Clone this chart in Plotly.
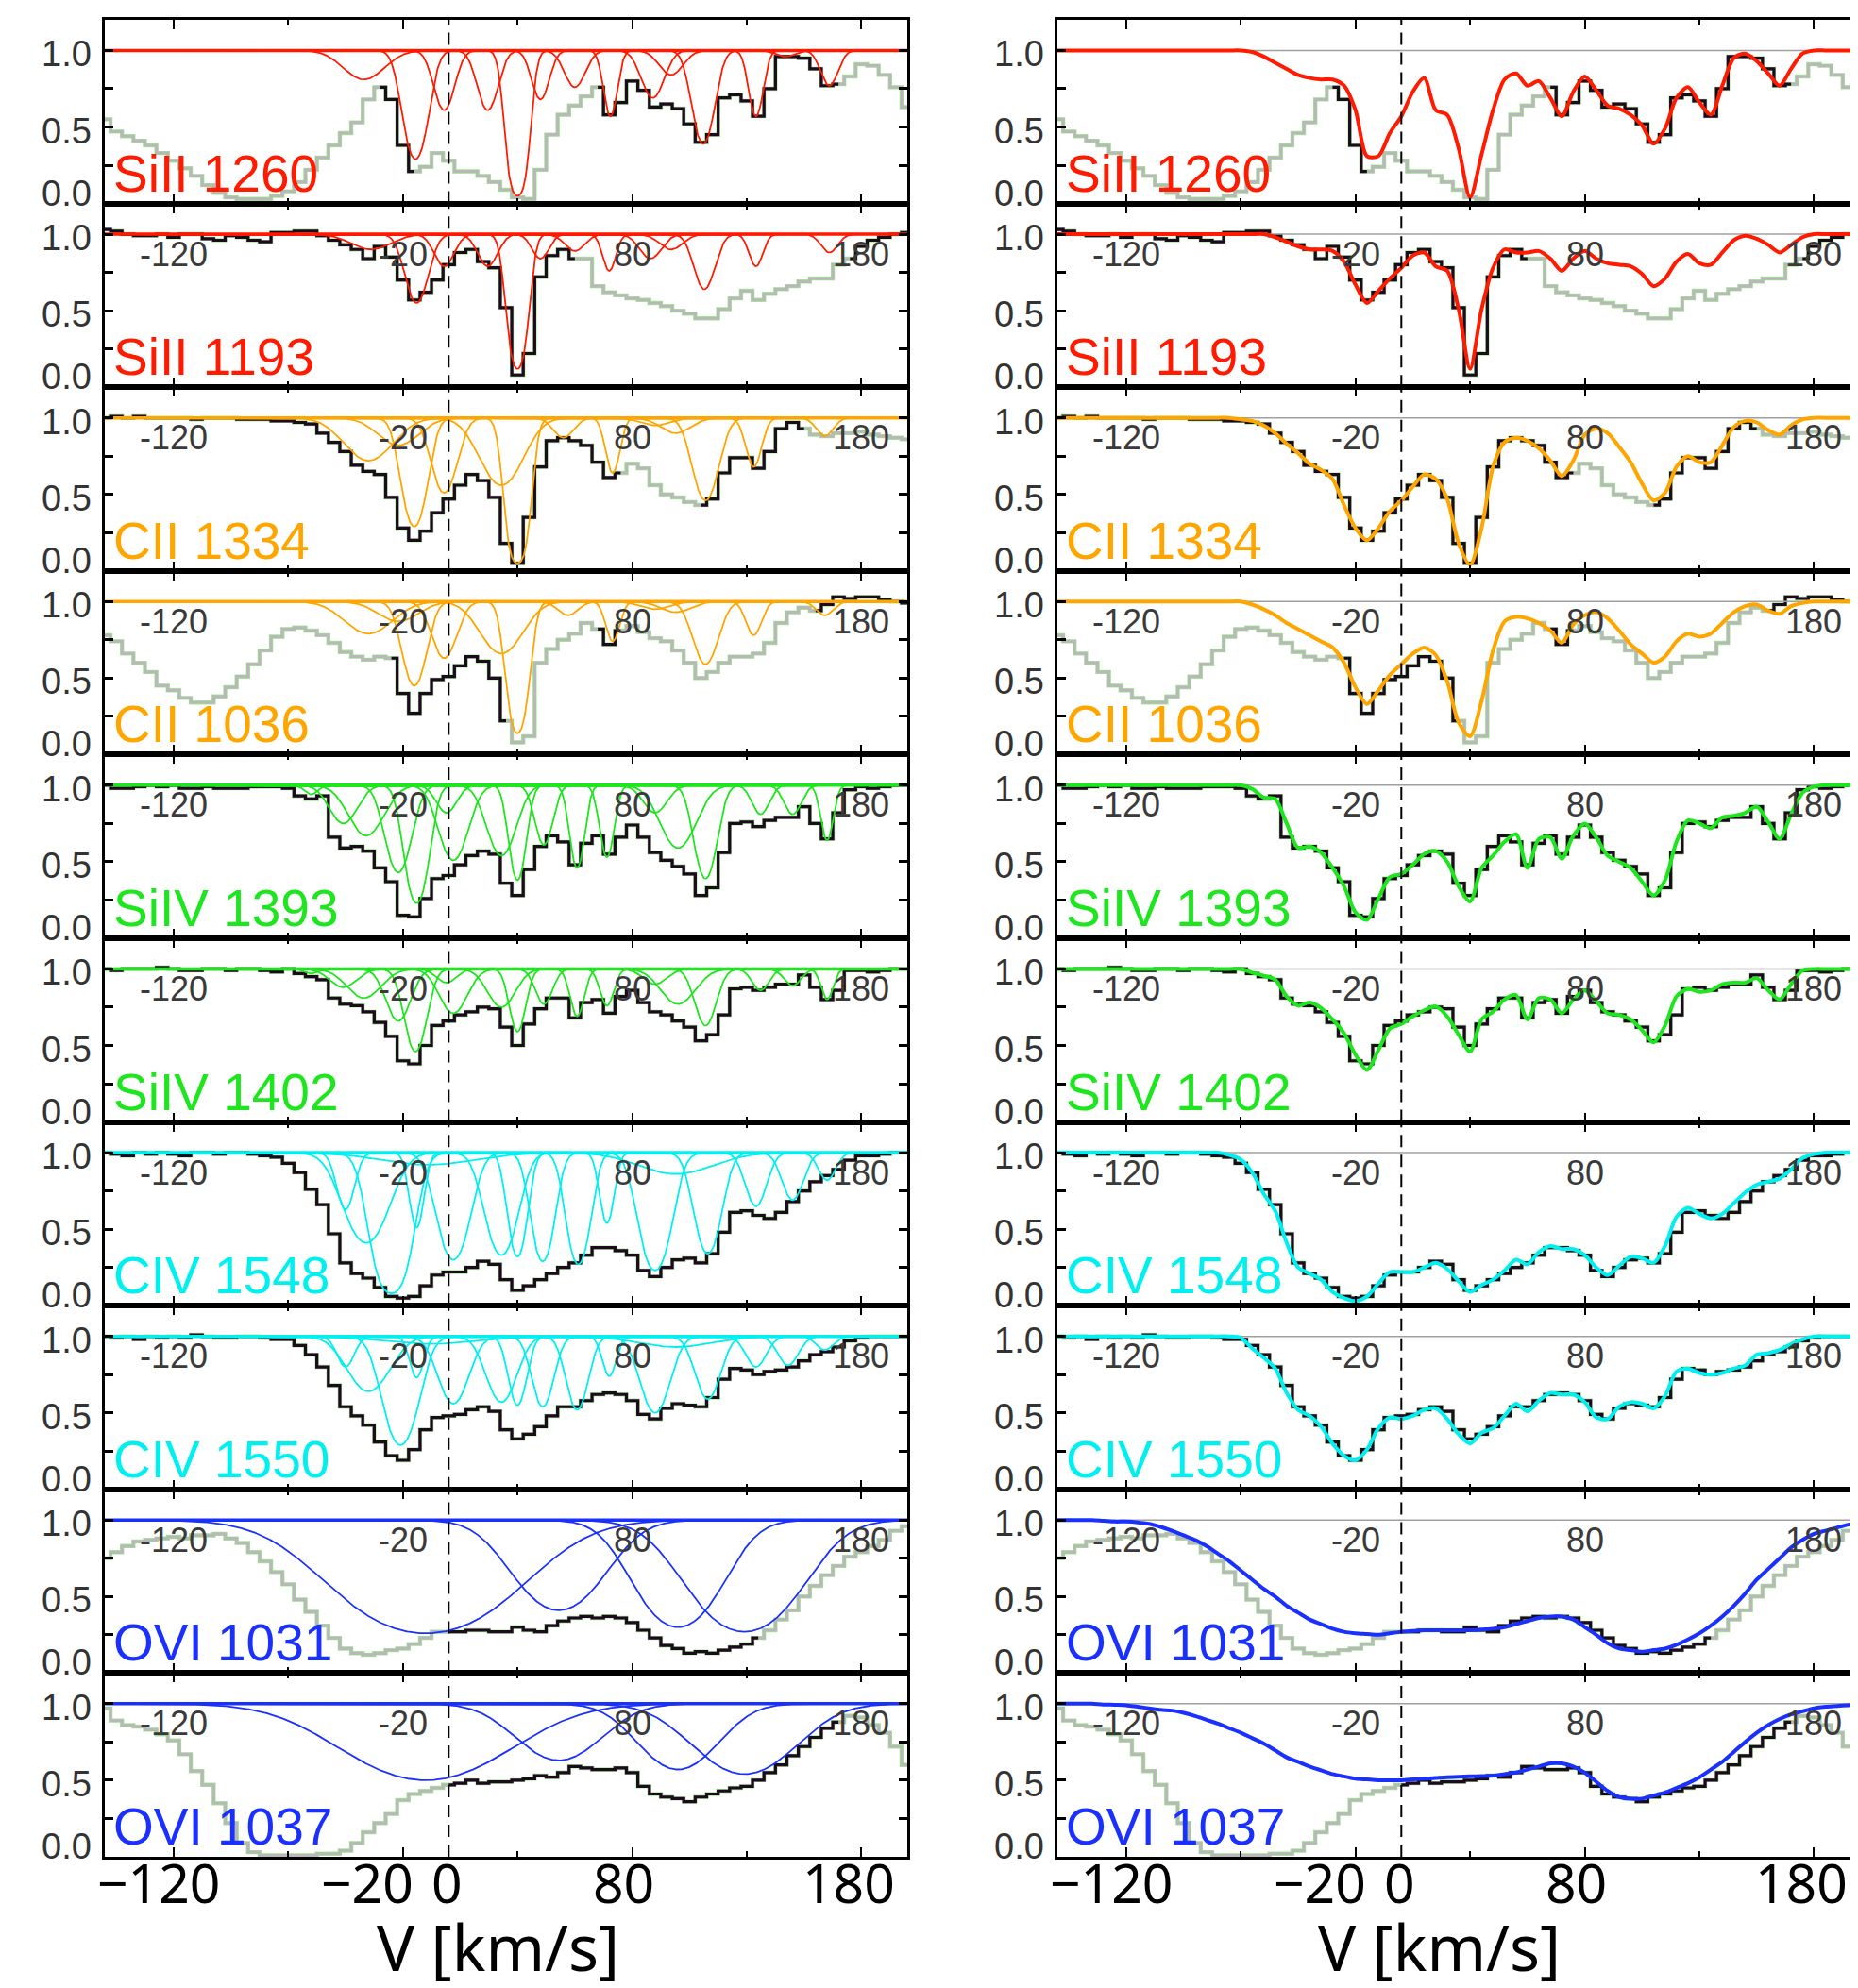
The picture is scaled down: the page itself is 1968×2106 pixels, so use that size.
import numpy as np
import plotly.graph_objects as go

# ---------------- data ----------------
V = list(range(-150, 205, 5))  # velocity bins (km/s)

SPEC_SIII_1260 = [0.55, 0.47, 0.44, 0.41, 0.38, 0.33, 0.28, 0.23, 0.18, 0.12,
                  0.07, 0.04, 0.03, 0.03, 0.03, 0.05, 0.08, 0.14, 0.22, 0.30,
                  0.38, 0.46, 0.53, 0.68, 0.76, 0.68, 0.38, 0.21, 0.24, 0.33,
                  0.28, 0.21, 0.21, 0.18, 0.14, 0.09, 0.04, 0.03, 0.22, 0.45,
                  0.58, 0.64, 0.70, 0.76, 0.58, 0.66, 0.80, 0.74, 0.63, 0.65,
                  0.62, 0.52, 0.40, 0.45, 0.69, 0.71, 0.67, 0.57, 0.75, 0.96,
                  0.96, 0.95, 0.88, 0.77, 0.78, 0.83, 0.91, 0.90, 0.84, 0.76,
                  0.63]
SPEC_SIII_1193 = [1.03, 1.02, 1.00, 0.99, 0.99, 1.00, 0.98, 1.00, 1.00, 0.97,
                  0.96, 0.99, 0.98, 0.96, 0.95, 1.01, 1.01, 1.02, 1.02, 0.99,
                  0.96, 0.93, 0.90, 0.84, 0.92, 0.85, 0.70, 0.57, 0.62, 0.70,
                  0.80, 0.88, 0.90, 0.82, 0.78, 0.52, 0.08, 0.22, 0.72, 0.86,
                  0.90, 0.84, 0.84, 0.66, 0.62, 0.60, 0.58, 0.57, 0.55, 0.53,
                  0.50, 0.48, 0.45, 0.45, 0.51, 0.58, 0.63, 0.57, 0.61, 0.64,
                  0.66, 0.69, 0.71, 0.71, 0.80, 0.84, 0.92, 0.96, 0.98, 1.00,
                  1.01]
SPEC_CII_1334 = [1.00, 1.01, 1.00, 1.01, 1.00, 1.00, 1.00, 1.00, 0.99, 1.00,
                 1.00, 1.00, 0.99, 0.99, 0.99, 0.98, 0.98, 0.97, 0.96, 0.90,
                 0.84, 0.78, 0.69, 0.65, 0.63, 0.48, 0.28, 0.20, 0.26, 0.38,
                 0.47, 0.56, 0.63, 0.59, 0.48, 0.18, 0.05, 0.35, 0.68, 0.85,
                 0.87, 0.85, 0.82, 0.71, 0.61, 0.64, 0.70, 0.67, 0.56, 0.50,
                 0.48, 0.45, 0.43, 0.47, 0.64, 0.74, 0.74, 0.67, 0.78, 0.93,
                 0.97, 0.93, 0.89, 0.88, 0.90, 0.90, 0.91, 0.89, 0.88, 0.87,
                 0.86]
SPEC_CII_1036 = [0.78, 0.74, 0.66, 0.60, 0.54, 0.45, 0.42, 0.37, 0.34, 0.34,
                 0.38, 0.44, 0.51, 0.59, 0.68, 0.77, 0.82, 0.83, 0.81, 0.78,
                 0.73, 0.67, 0.64, 0.62, 0.64, 0.63, 0.40, 0.27, 0.40, 0.49,
                 0.51, 0.58, 0.64, 0.61, 0.50, 0.22, 0.08, 0.12, 0.60, 0.69,
                 0.75, 0.79, 0.86, 0.82, 0.72, 0.81, 0.84, 0.80, 0.76, 0.74,
                 0.68, 0.60, 0.50, 0.54, 0.60, 0.64, 0.64, 0.66, 0.73, 0.86,
                 0.93, 0.96, 0.94, 0.98, 1.03, 1.02, 1.03, 1.03, 1.01, 1.00,
                 0.99]
SPEC_SIIV_1393 = [1.00, 0.98, 0.98, 0.99, 1.00, 0.99, 1.00, 0.98, 0.98, 0.99,
                  0.98, 0.98, 0.98, 0.99, 0.99, 0.99, 0.98, 0.93, 0.91, 0.93,
                  0.66, 0.59, 0.60, 0.57, 0.46, 0.37, 0.15, 0.14, 0.26, 0.39,
                  0.41, 0.48, 0.54, 0.57, 0.55, 0.36, 0.28, 0.45, 0.60, 0.67,
                  0.63, 0.48, 0.62, 0.67, 0.55, 0.66, 0.74, 0.66, 0.56, 0.51,
                  0.47, 0.42, 0.28, 0.33, 0.56, 0.75, 0.76, 0.73, 0.77, 0.79,
                  0.79, 0.86, 0.75, 0.65, 0.82, 0.97, 0.99, 0.98, 0.99, 1.00,
                  1.00]
SPEC_SIIV_1402 = [1.00, 0.99, 1.00, 1.00, 1.00, 1.01, 1.00, 0.99, 0.99, 1.00,
                  1.00, 0.99, 1.00, 1.00, 0.99, 0.98, 1.00, 0.97, 0.95, 0.93,
                  0.81, 0.77, 0.76, 0.72, 0.65, 0.56, 0.40, 0.38, 0.50, 0.63,
                  0.66, 0.70, 0.72, 0.75, 0.74, 0.62, 0.50, 0.64, 0.74, 0.81,
                  0.81, 0.68, 0.78, 0.80, 0.71, 0.82, 0.86, 0.78, 0.72, 0.70,
                  0.66, 0.62, 0.53, 0.57, 0.70, 0.87, 0.88, 0.86, 0.88, 0.90,
                  0.90, 0.96, 0.88, 0.80, 0.86, 0.99, 0.99, 0.98, 0.99, 1.00,
                  1.00]
SPEC_CIV_1548 = [1.00, 0.99, 0.98, 1.00, 0.99, 1.00, 0.99, 0.98, 1.00, 1.00,
                 0.99, 1.00, 1.00, 0.99, 0.98, 0.97, 0.93, 0.87, 0.76, 0.66,
                 0.47, 0.28, 0.21, 0.18, 0.12, 0.06, 0.05, 0.06, 0.13, 0.20,
                 0.22, 0.22, 0.25, 0.29, 0.27, 0.17, 0.10, 0.13, 0.17, 0.21,
                 0.25, 0.28, 0.33, 0.38, 0.38, 0.36, 0.33, 0.23, 0.19, 0.25,
                 0.30, 0.31, 0.28, 0.34, 0.48, 0.61, 0.62, 0.59, 0.57, 0.61,
                 0.68, 0.75, 0.81, 0.85, 0.89, 0.95, 0.98, 0.98, 0.99, 1.00,
                 1.00]
SPEC_CIV_1550 = [1.00, 0.99, 1.00, 0.98, 1.00, 0.99, 1.00, 0.99, 1.01, 1.00,
                 0.99, 0.99, 1.00, 1.00, 0.99, 0.98, 0.98, 0.94, 0.88, 0.80,
                 0.68, 0.54, 0.48, 0.42, 0.31, 0.22, 0.19, 0.26, 0.39, 0.47,
                 0.48, 0.49, 0.52, 0.54, 0.51, 0.39, 0.33, 0.36, 0.41, 0.48,
                 0.54, 0.54, 0.58, 0.62, 0.63, 0.62, 0.58, 0.49, 0.46, 0.53,
                 0.56, 0.55, 0.54, 0.60, 0.72, 0.79, 0.78, 0.75, 0.77, 0.78,
                 0.80, 0.84, 0.88, 0.90, 0.93, 0.97, 0.99, 1.00, 1.00, 1.00,
                 1.00]
SPEC_OVI_1031 = [0.75, 0.79, 0.83, 0.86, 0.87, 0.88, 0.89, 0.88, 0.90, 0.90,
                 0.91, 0.88, 0.85, 0.79, 0.73, 0.66, 0.58, 0.48, 0.40, 0.31,
                 0.23, 0.16, 0.13, 0.12, 0.13, 0.15, 0.16, 0.19, 0.23, 0.27,
                 0.27, 0.27, 0.28, 0.28, 0.27, 0.27, 0.30, 0.28, 0.27, 0.31,
                 0.34, 0.36, 0.37, 0.36, 0.37, 0.36, 0.33, 0.28, 0.23, 0.18,
                 0.16, 0.13, 0.14, 0.13, 0.15, 0.17, 0.19, 0.23, 0.28, 0.35,
                 0.41, 0.50, 0.57, 0.64, 0.70, 0.76, 0.79, 0.83, 0.87, 0.93,
                 0.96]
SPEC_OVI_1037 = [0.97, 0.89, 0.86, 0.85, 0.83, 0.80, 0.76, 0.67, 0.56, 0.47,
                 0.35, 0.22, 0.09, 0.03, 0.01, 0.01, 0.01, 0.01, 0.01, 0.02,
                 0.02, 0.04, 0.09, 0.16, 0.22, 0.28, 0.37, 0.41, 0.43, 0.45,
                 0.47, 0.48, 0.50, 0.48, 0.49, 0.49, 0.50, 0.51, 0.53, 0.52,
                 0.55, 0.59, 0.58, 0.57, 0.57, 0.58, 0.55, 0.46, 0.41, 0.39,
                 0.38, 0.36, 0.39, 0.41, 0.43, 0.45, 0.46, 0.50, 0.55, 0.60,
                 0.66, 0.72, 0.78, 0.84, 0.88, 0.92, 0.91, 0.86, 0.81, 0.72,
                 0.60]

# total fitted model (right column), same velocity bins
MODEL_SIII_1260 = [1, 1, 1, 1, 1, 1, 1, 1, 1, 1,
                   1, 1, 1, 1, 1, 1, 1, 0.99, 0.96, 0.92,
                   0.88, 0.84, 0.82, 0.81, 0.81, 0.77, 0.61, 0.31, 0.31, 0.46,
                   0.57, 0.73, 0.82, 0.61, 0.58, 0.36, 0.04, 0.32, 0.61, 0.81,
                   0.85, 0.77, 0.80, 0.69, 0.57, 0.73, 0.83, 0.74, 0.64, 0.62,
                   0.58, 0.51, 0.39, 0.49, 0.69, 0.76, 0.66, 0.58, 0.77, 0.95,
                   0.98, 0.93, 0.85, 0.77, 0.88, 0.98, 1, 1, 1, 1,
                   1]
MODEL_SIII_1193 = [1, 1, 1, 1, 1, 1, 1, 1, 1, 1,
                   1, 1, 1, 1, 1, 1, 1, 1, 1, 0.98,
                   0.95, 0.92, 0.90, 0.90, 0.89, 0.82, 0.67, 0.55, 0.63, 0.71,
                   0.78, 0.86, 0.88, 0.79, 0.76, 0.51, 0.12, 0.51, 0.78, 0.90,
                   0.88, 0.88, 0.89, 0.84, 0.76, 0.84, 0.89, 0.84, 0.81, 0.80,
                   0.79, 0.74, 0.66, 0.71, 0.82, 0.87, 0.81, 0.80, 0.88, 0.96,
                   0.99, 0.97, 0.93, 0.88, 0.93, 0.98, 1, 1, 1, 1,
                   1]
MODEL_CII_1334 = [1, 1, 1, 1, 1, 1, 1, 1, 1, 1,
                  1, 1, 1, 1, 1, 1, 0.99, 0.98, 0.95, 0.90,
                  0.83, 0.77, 0.70, 0.66, 0.60, 0.43, 0.28, 0.20, 0.28, 0.39,
                  0.46, 0.55, 0.63, 0.60, 0.47, 0.18, 0.04, 0.28, 0.68, 0.84,
                  0.87, 0.85, 0.80, 0.72, 0.62, 0.72, 0.89, 0.93, 0.90, 0.81,
                  0.71, 0.57, 0.46, 0.51, 0.68, 0.75, 0.71, 0.71, 0.82, 0.94,
                  0.98, 0.97, 0.92, 0.89, 0.95, 0.99, 1, 1, 1, 1,
                  1]
MODEL_CII_1036 = [1, 1, 1, 1, 1, 1, 1, 1, 1, 1,
                  1, 1, 1, 1, 1, 1, 1, 0.98, 0.95, 0.91,
                  0.86, 0.82, 0.78, 0.74, 0.70, 0.60, 0.44, 0.33, 0.42, 0.52,
                  0.59, 0.66, 0.70, 0.65, 0.48, 0.21, 0.12, 0.35, 0.68, 0.87,
                  0.90, 0.89, 0.86, 0.81, 0.73, 0.85, 0.91, 0.93, 0.89, 0.81,
                  0.72, 0.66, 0.60, 0.64, 0.74, 0.79, 0.77, 0.79, 0.86, 0.93,
                  0.97, 0.98, 0.94, 0.92, 0.97, 0.99, 1, 1, 1, 1,
                  1]
MODEL_SIIV_1393 = [1, 1, 1, 1, 1, 1, 1, 1, 1, 1,
                   1, 1, 1, 1, 1, 1, 1, 0.975, 0.92, 0.91,
                   0.75, 0.59, 0.60, 0.56, 0.46, 0.34, 0.17, 0.12, 0.26, 0.40,
                   0.42, 0.48, 0.55, 0.57, 0.50, 0.34, 0.24, 0.46, 0.54, 0.63,
                   0.68, 0.46, 0.65, 0.66, 0.52, 0.67, 0.75, 0.66, 0.54, 0.50,
                   0.46, 0.37, 0.28, 0.38, 0.63, 0.77, 0.75, 0.72, 0.79, 0.80,
                   0.82, 0.86, 0.76, 0.65, 0.81, 0.95, 0.99, 1, 1, 1,
                   1]
MODEL_SIIV_1402 = [1, 1, 1, 1, 1, 1, 1, 1, 1, 1,
                   1, 1, 1, 1, 1, 1, 1, 0.976, 0.955, 0.93,
                   0.82, 0.76, 0.78, 0.745, 0.67, 0.58, 0.44, 0.34, 0.47, 0.61,
                   0.64, 0.69, 0.73, 0.755, 0.69, 0.57, 0.46, 0.67, 0.72, 0.80,
                   0.83, 0.67, 0.81, 0.80, 0.71, 0.80, 0.86, 0.79, 0.71, 0.70,
                   0.67, 0.60, 0.52, 0.63, 0.82, 0.87, 0.85, 0.86, 0.90, 0.91,
                   0.91, 0.94, 0.86, 0.80, 0.90, 0.99, 1, 1, 1, 1,
                   1]
MODEL_CIV_1548 = [1, 1, 1, 1, 1, 1, 1, 1, 1, 1,
                  1, 1, 1, 1, 1, 0.985, 0.955, 0.87, 0.73, 0.62,
                  0.41, 0.25, 0.21, 0.17, 0.09, 0.05, 0.03, 0.06, 0.145, 0.22,
                  0.22, 0.22, 0.25, 0.28, 0.24, 0.16, 0.09, 0.135, 0.17, 0.23,
                  0.30, 0.27, 0.35, 0.39, 0.37, 0.37, 0.33, 0.25, 0.20, 0.26,
                  0.32, 0.31, 0.28, 0.39, 0.58, 0.64, 0.60, 0.57, 0.60, 0.67,
                  0.74, 0.79, 0.81, 0.83, 0.89, 0.965, 0.99, 1, 1, 1,
                  1]
MODEL_CIV_1550 = [1, 1, 1, 1, 1, 1, 1, 1, 1, 1,
                  1, 1, 1, 1, 1, 1, 0.99, 0.92, 0.86, 0.79,
                  0.63, 0.52, 0.48, 0.41, 0.30, 0.22, 0.19, 0.26, 0.40, 0.47,
                  0.46, 0.48, 0.52, 0.53, 0.46, 0.36, 0.30, 0.37, 0.40, 0.48,
                  0.56, 0.51, 0.58, 0.63, 0.62, 0.62, 0.57, 0.47, 0.46, 0.54,
                  0.57, 0.56, 0.53, 0.61, 0.77, 0.79, 0.76, 0.75, 0.76, 0.79,
                  0.81, 0.88, 0.89, 0.91, 0.95, 0.98, 1, 1, 1, 1,
                  1]
MODEL_OVI_1031 = [1.0, 1.0, 1.0, 1.0, 0.995, 0.99, 0.99, 0.985, 0.975, 0.955,
                  0.93, 0.90, 0.87, 0.83, 0.78, 0.73, 0.67, 0.61, 0.55, 0.50,
                  0.44, 0.395, 0.35, 0.32, 0.29, 0.27, 0.26, 0.255, 0.25, 0.26,
                  0.27, 0.275, 0.28, 0.28, 0.28, 0.28, 0.28, 0.285, 0.29, 0.30,
                  0.32, 0.34, 0.36, 0.37, 0.37, 0.35, 0.30, 0.25, 0.195, 0.16,
                  0.15, 0.14, 0.15, 0.16, 0.185, 0.22, 0.26, 0.31, 0.37, 0.44,
                  0.52, 0.61, 0.68, 0.75, 0.82, 0.87, 0.91, 0.93, 0.95, 0.97,
                  0.98]
MODEL_OVI_1037 = [1.0, 1.0, 1.0, 1.0, 0.995, 0.993, 0.99, 0.98, 0.97, 0.96,
                  0.955, 0.94, 0.92, 0.895, 0.87, 0.84, 0.81, 0.775, 0.74, 0.695,
                  0.65, 0.62, 0.59, 0.565, 0.54, 0.525, 0.51, 0.505, 0.50, 0.50,
                  0.50, 0.505, 0.51, 0.515, 0.52, 0.522, 0.525, 0.527, 0.53, 0.54,
                  0.55, 0.57, 0.59, 0.61, 0.61, 0.59, 0.55, 0.49, 0.43, 0.39,
                  0.38, 0.38, 0.40, 0.42, 0.45, 0.48, 0.52, 0.57, 0.62, 0.685,
                  0.75, 0.81, 0.86, 0.90, 0.93, 0.95, 0.97, 0.98, 0.985, 0.99,
                  0.995]

# velocity ranges of the spectrum used in the fit (drawn black)
FIT_SIII_1260 = [(-30, -15), (65, 170)]
FIT_SIII_1193 = [(-150, 55), (175, 200)]
FIT_CII_1334 = [(-150, 75), (110, 155)]
FIT_CII_1036 = [(-25, 25), (65, 75), (160, 200)]
FIT_SIIV_1393 = [(-150, 200)]
FIT_SIIV_1402 = [(-150, 200)]
FIT_CIV_1548 = [(-150, 200)]
FIT_CIV_1550 = [(-150, 200)]
FIT_OVI_1031 = [(0, 135)]
FIT_OVI_1037 = [(0, 170)]

# fitted components: (centre velocity, minimum flux, width b)
COMP_SIII_1260 = [(-37, 0.81, 12), (-14.5, 0.29, 6.4), (-2, 0.61, 5.8), (17, 0.61, 5.8),
                  (30, 0.05, 4.8), (40, 0.68, 5), (55, 0.76, 6), (70.5, 0.57, 3.8),
                  (89, 0.69, 6.5), (97, 0.84, 7), (111, 0.39, 5.9), (134, 0.57, 4),
                  (147, 0.96, 6), (166, 0.77, 5)]
COMP_SIII_1193 = [(-34, 0.90, 12), (-14, 0.55, 6.4), (-2, 0.79, 5.8), (17, 0.79, 5.8),
                  (30, 0.12, 4.8), (40, 0.84, 5), (55, 0.89, 6), (70, 0.76, 3.8),
                  (88, 0.84, 6.5), (97, 0.90, 7), (111.5, 0.64, 5.9), (134, 0.79, 4),
                  (166, 0.88, 5)]
COMP_CII_1334 = [(-35, 0.72, 14), (-22, 0.82, 12), (-15, 0.29, 6.5), (-2, 0.51, 7),
                 (23, 0.56, 12), (30, 0.05, 5.2), (50, 0.87, 6), (71.5, 0.64, 4),
                 (90, 0.95, 9), (99, 0.90, 9), (112, 0.46, 7), (133, 0.68, 4.5),
                 (164, 0.88, 5)]
COMP_CII_1036 = [(-35, 0.79, 14), (-22, 0.87, 12), (-15, 0.45, 6.5), (-2, 0.63, 7),
                 (23, 0.66, 12), (30, 0.14, 5.2), (52, 0.91, 6), (71.5, 0.74, 4),
                 (90, 0.95, 9), (99, 0.93, 9), (112, 0.59, 7), (133, 0.78, 4.5),
                 (164, 0.91, 5)]
COMP_SIIV_1393 = [(-60, 0.94, 4), (-46, 0.75, 8), (-36, 0.67, 10), (-22, 0.43, 7),
                  (-14, 0.23, 6), (-1, 0.82, 6), (2, 0.51, 8), (23, 0.54, 8),
                  (30, 0.38, 4.5), (41.5, 0.61, 5), (56, 0.46, 4), (69, 0.53, 4),
                  (90, 0.82, 7), (100, 0.59, 10), (112, 0.39, 6), (136, 0.81, 5),
                  (150, 0.81, 5), (165, 0.64, 3.5)]
COMP_SIIV_1402 = [(-60, 0.97, 4), (-46, 0.88, 8), (-37, 0.81, 10), (-22, 0.66, 7),
                  (-14.5, 0.46, 6), (-1, 0.91, 6), (2, 0.71, 8), (23, 0.75, 8),
                  (30, 0.59, 4.5), (41.5, 0.77, 5), (56, 0.69, 4), (69, 0.76, 4),
                  (90, 0.90, 7), (100, 0.77, 10), (112, 0.63, 6), (136, 0.86, 5),
                  (150, 0.89, 5), (165, 0.80, 3.5)]
COMP_CIV_1548 = [(-45, 0.63, 5), (-36, 0.41, 12), (-25, 0.08, 9), (-14, 0.51, 4),
                 (-9, 0.92, 28), (2, 0.30, 8.4), (23, 0.33, 8.4), (30, 0.32, 5),
                 (41, 0.29, 6), (56.5, 0.27, 6), (69, 0.54, 4), (90, 0.23, 8),
                 (99, 0.86, 22), (113, 0.34, 7), (134, 0.65, 6), (150, 0.69, 6),
                 (165, 0.82, 5)]
COMP_CIV_1550 = [(-45, 0.80, 5), (-35, 0.64, 12), (-21, 0.29, 9), (-14, 0.73, 4),
                 (-9, 0.95, 28), (2, 0.56, 8.4), (23, 0.57, 8.4), (30, 0.55, 5),
                 (41, 0.54, 6), (56, 0.52, 6), (70, 0.74, 4), (90, 0.50, 8),
                 (99, 0.93, 22), (113, 0.59, 7), (134, 0.80, 6), (148, 0.81, 6),
                 (164, 0.91, 5)]
COMP_OVI_1031 = [(-10, 0.26, 45), (48, 0.41, 24), (100, 0.30, 22), (129, 0.27, 28)]
COMP_OVI_1037 = [(-10, 0.50, 45), (48, 0.63, 24), (100, 0.57, 22), (129, 0.54, 28)]

LINE_NAMES = ["SiII 1260", "SiII 1193", "CII 1334", "CII 1036", "SiIV 1393",
              "SiIV 1402", "CIV 1548", "CIV 1550", "OVI 1031", "OVI 1037"]
SPECTRA = [SPEC_SIII_1260, SPEC_SIII_1193, SPEC_CII_1334, SPEC_CII_1036, SPEC_SIIV_1393,
           SPEC_SIIV_1402, SPEC_CIV_1548, SPEC_CIV_1550, SPEC_OVI_1031, SPEC_OVI_1037]
MODELS = [MODEL_SIII_1260, MODEL_SIII_1193, MODEL_CII_1334, MODEL_CII_1036, MODEL_SIIV_1393,
          MODEL_SIIV_1402, MODEL_CIV_1548, MODEL_CIV_1550, MODEL_OVI_1031, MODEL_OVI_1037]
FITS = [FIT_SIII_1260, FIT_SIII_1193, FIT_CII_1334, FIT_CII_1036, FIT_SIIV_1393,
        FIT_SIIV_1402, FIT_CIV_1548, FIT_CIV_1550, FIT_OVI_1031, FIT_OVI_1037]
COMPS = [COMP_SIII_1260, COMP_SIII_1193, COMP_CII_1334, COMP_CII_1036, COMP_SIIV_1393,
         COMP_SIIV_1402, COMP_CIV_1548, COMP_CIV_1550, COMP_OVI_1031, COMP_OVI_1037]
ION_COLORS = ["#ff1a00", "#ff1a00", "#ffa500", "#ffa500", "#1ee61e",
              "#1ee61e", "#00f0f0", "#00f0f0", "#1a30ff", "#1a30ff"]

X_TICKS = [-120, -20, 80, 180]
X_LABELS = ["-120", "-20", "80", "180"]
BOTTOM_TICKS = [-120, -20, 0, 80, 180]
BOTTOM_LABELS = ["\u2212120", "\u221220", "0", "80", "180"]
Y_TICKS = [0.0, 0.5, 1.0]
Y_LABELS = ["0.0", "0.5", "1.0"]

# ---------------- geometry ----------------
W, H = 1968, 2106
COL_X = [(103, 953), (1112, 1962)]
TOP, PH = 13, 194.6
NROW = 10

VF = np.linspace(-150, 200, 1401)


def profile(v0, fmin, b):
    tau0 = -np.log(fmin)
    return np.exp(-tau0 * np.exp(-((VF - v0) / b) ** 2))


fig = go.Figure()
annotations = []
shapes = []
layout_axes = {}

LAB_FONT = "Liberation Sans, Arial, Helvetica, sans-serif"

for r in range(NROW):
    for c in range(2):
        n = r * 2 + c + 1
        sfx = "" if n == 1 else str(n)
        xa, ya = "x" + sfx, "y" + sfx
        xd = [COL_X[c][0] / W, COL_X[c][1] / W]
        y_top = TOP + r * PH
        yd = [1 - (y_top + PH) / H, 1 - y_top / H]
        layout_axes["xaxis" + sfx] = dict(
            domain=xd, range=[-150, 200], anchor=ya, showgrid=False, zeroline=False,
            showline=True, linewidth=3, linecolor="black", mirror="allticks",
            ticks="inside", tickvals=X_TICKS, ticklen=10, tickwidth=2, tickcolor="black",
            showticklabels=False,
            minor=dict(tickvals=[-70, 30, 130], ticklen=6, tickwidth=1.5, tickcolor="black", ticks="inside"))
        layout_axes["yaxis" + sfx] = dict(
            domain=yd, range=[0, 1.2], anchor=xa, showgrid=False, zeroline=False,
            showline=True, linewidth=3, linecolor="black", mirror="allticks",
            ticks="inside", tickvals=Y_TICKS, ticklen=9, tickwidth=2.5, tickcolor="black",
            showticklabels=False,
            minor=dict(tickvals=[0.25, 0.75], ticklen=9, tickwidth=2.5, tickcolor="black", ticks="inside"))

        spec = SPECTRA[r]
        col = ION_COLORS[r]
        fit = FITS[r]
        black = [s if any(a <= v <= b for a, b in fit) else None for v, s in zip(V, spec)]

        fig.add_trace(go.Scatter(x=V, y=spec, xaxis=xa, yaxis=ya, mode="lines",
                                 line=dict(color="#9cf08c", width=4.4, shape="hvh"),
                                 hoverinfo="skip", showlegend=False))
        fig.add_trace(go.Scatter(x=V, y=spec, xaxis=xa, yaxis=ya, mode="lines",
                                 line=dict(color="#b8b8b8", width=3.2, shape="hvh"),
                                 hoverinfo="skip", showlegend=False))
        fig.add_trace(go.Scatter(x=V, y=black, xaxis=xa, yaxis=ya, mode="lines",
                                 line=dict(color="#1e0a1e", width=3.2, shape="hvh"),
                                 connectgaps=False, hoverinfo="skip", showlegend=False))
        # continuum
        fig.add_trace(go.Scatter(x=[-150, 200], y=[1, 1], xaxis=xa, yaxis=ya, mode="lines",
                                 line=dict(color="#a0a0a0", width=1.5),
                                 hoverinfo="skip", showlegend=False))
        if c == 0:
            fig.add_trace(go.Scatter(x=[-150, 200], y=[1, 1], xaxis=xa, yaxis=ya, mode="lines",
                                     line=dict(color=col, width=3.5),
                                     hoverinfo="skip", showlegend=False))
            for (v0, fm, b) in COMPS[r]:
                fig.add_trace(go.Scatter(x=VF, y=profile(v0, fm, b), xaxis=xa, yaxis=ya,
                                         mode="lines", line=dict(color=col, width=1.8),
                                         hoverinfo="skip", showlegend=False))
        else:
            fig.add_trace(go.Scatter(x=V, y=MODELS[r], xaxis=xa, yaxis=ya, mode="lines",
                                     line=dict(color=col, width=4, shape="spline", smoothing=0.8),
                                     hoverinfo="skip", showlegend=False))

        shapes.append(dict(type="line", xref=xa, yref=ya + " domain", x0=0, x1=0, y0=0, y1=1,
                           line=dict(color="black", width=2, dash="13px,8px"), layer="above"))

        # line name
        annotations.append(dict(text=LINE_NAMES[r], xref=xa + " domain", yref=ya + " domain",
                                x=0, y=0, xanchor="left", yanchor="bottom", xshift=7, yshift=-1,
                                showarrow=False, font=dict(family=LAB_FONT, size=55, color=col)))
        # y tick labels
        for yv, yt in zip(Y_TICKS, Y_LABELS):
            shift = 11 if yv == 0 else -4
            annotations.append(dict(text=yt, xref=xa + " domain", yref=ya, x=0, y=yv,
                                    xanchor="right", yanchor="middle", xshift=-12, yshift=shift,
                                    showarrow=False,
                                    font=dict(family=LAB_FONT, size=38, color="#333333")))
        # in-panel velocity labels
        if r > 0:
            for xv, xt in zip(X_TICKS, X_LABELS):
                annotations.append(dict(text=xt, xref=xa, yref=ya, x=xv, y=0.87,
                                        xanchor="center", yanchor="middle", showarrow=False,
                                        font=dict(family=LAB_FONT, size=36, color="#3a3a3a")))

# bottom axis labels
BOTTOM_SHIFTS = [-16, -38, -2, -9, -13]
for c in range(2):
    n = (NROW - 1) * 2 + c + 1
    for xv, xt, sh in zip(BOTTOM_TICKS, BOTTOM_LABELS, BOTTOM_SHIFTS):
        annotations.append(dict(text=xt, xref=f"x{n}", yref="paper", x=xv, y=1 - 1986 / H,
                                xanchor="center", yanchor="middle", xshift=sh, showarrow=False,
                                font=dict(family="Noto Sans, sans-serif", size=57, color="black")))
for xc in [519, 1516]:
    annotations.append(dict(text="V [km/s]", xref="paper", yref="paper", x=xc / W, y=1 - 2054 / H,
                            xanchor="center", yanchor="middle", showarrow=False,
                            font=dict(family="Noto Sans, sans-serif", size=67, color="black")))

fig.update_layout(width=W, height=H, margin=dict(l=0, r=0, t=0, b=0),
                  paper_bgcolor="white", plot_bgcolor="white", showlegend=False,
                  annotations=annotations, shapes=shapes, **layout_axes)

fig.write_html("out.html")
